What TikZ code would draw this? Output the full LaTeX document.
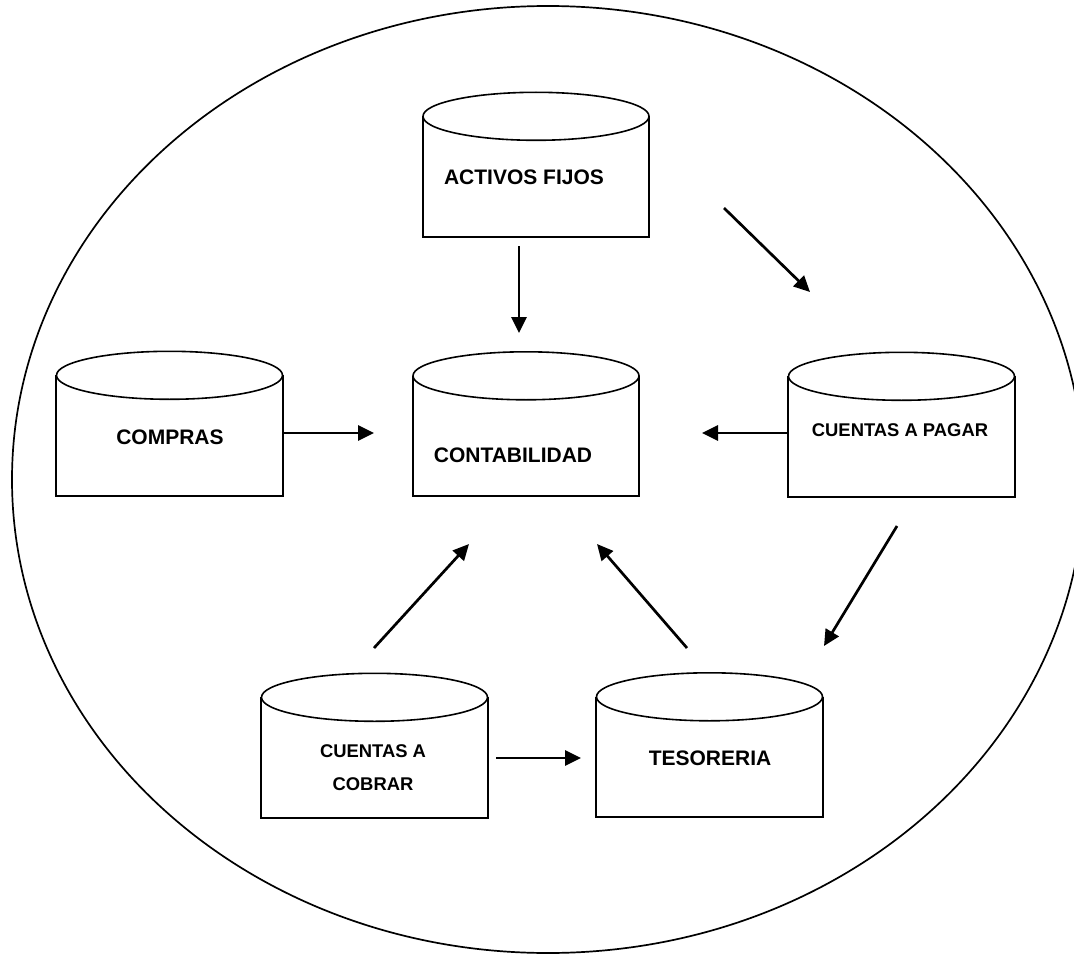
\documentclass[tikz,border=0pt]{standalone}
\usepackage{fontspec}
\setmainfont{Liberation Sans}
\usetikzlibrary{arrows.meta}
\begin{document}
\begin{tikzpicture}[x=1pt,y=-1pt,
  dbbody/.style={minimum width=226pt, minimum height=120pt, inner sep=0pt, draw=none},
  cylline/.style={line width=2pt, line join=miter},
  capline/.style={line width=1.6pt, fill=white},
  lbl/.style={font=\fontsize{21}{25}\selectfont\bfseries, inner sep=0pt},
  lblsmall/.style={font=\fontsize{18.4}{33}\selectfont\bfseries, inner sep=0pt, align=center},
  flow/.style={line width=2.7pt, -{Triangle[length=16pt,width=15pt]}},
]
\useasboundingbox (0,0) rectangle (1074,955);

% enclosing system boundary
\begin{scope}
  \clip (0,0) rectangle (1074,955);
  \draw[line width=1.7pt] (548,479.5) ellipse [x radius=536pt, y radius=473.5pt];
\end{scope}

% cylinder bodies (top cap centre to base)
\node[dbbody] (act)  at (536,176.5) {};
\node[dbbody] (cont) at (526,436) {};
\node[dbbody] (comp) at (169.5,435.5) {};
\node[dbbody] (pag)  at (901.5,436.5) {};
\node[dbbody] (cob)  at (374.5,757.5) {};
\node[dbbody] (tes)  at (709.5,757) {};

\foreach \n in {act,cont,comp,pag,cob,tes}{
  \draw[cylline] (\n.north west) -- (\n.south west) -- (\n.south east) -- (\n.north east);
  \draw[capline] (\n.north) ellipse [x radius=113pt, y radius=24pt];
}

% labels
\node[lbl] (act-t)  at (524,177) {ACTIVOS FIJOS};
\node[lbl] (cont-t) at (513,455) {CONTABILIDAD};
\node[lbl] (comp-t) at (170,437) {COMPRAS};
\node[lblsmall] (pag-t) at (900,430) {CUENTAS A PAGAR};
\node[lblsmall] (cob-t) at (373,768) {CUENTAS A\\COBRAR};
\node[lbl] (tes-t)  at (710,758) {TESORERIA};

% connector end points
\coordinate (a1s) at (519,246); \coordinate (a1e) at (519,333);
\coordinate (a2s) at (724,208); \coordinate (a2e) at (810,292);
\coordinate (a3s) at (283,433); \coordinate (a3e) at (374,433);
\coordinate (a4s) at (788,433); \coordinate (a4e) at (702,433);
\coordinate (a5s) at (897,526); \coordinate (a5e) at (824,646);
\coordinate (a6s) at (374,648); \coordinate (a6e) at (469,544);
\coordinate (a7s) at (687,648); \coordinate (a7e) at (597,544);
\coordinate (a8s) at (496,758); \coordinate (a8e) at (581,758);

% flows
\draw[flow] (a1s) -- (a1e);
\draw[flow] (a2s) -- (a2e);
\draw[flow] (a3s) -- (a3e);
\draw[flow] (a4s) -- (a4e);
\draw[flow] (a5s) -- (a5e);
\draw[flow] (a6s) -- (a6e);
\draw[flow] (a7s) -- (a7e);
\draw[flow] (a8s) -- (a8e);
\end{tikzpicture}
\end{document}
